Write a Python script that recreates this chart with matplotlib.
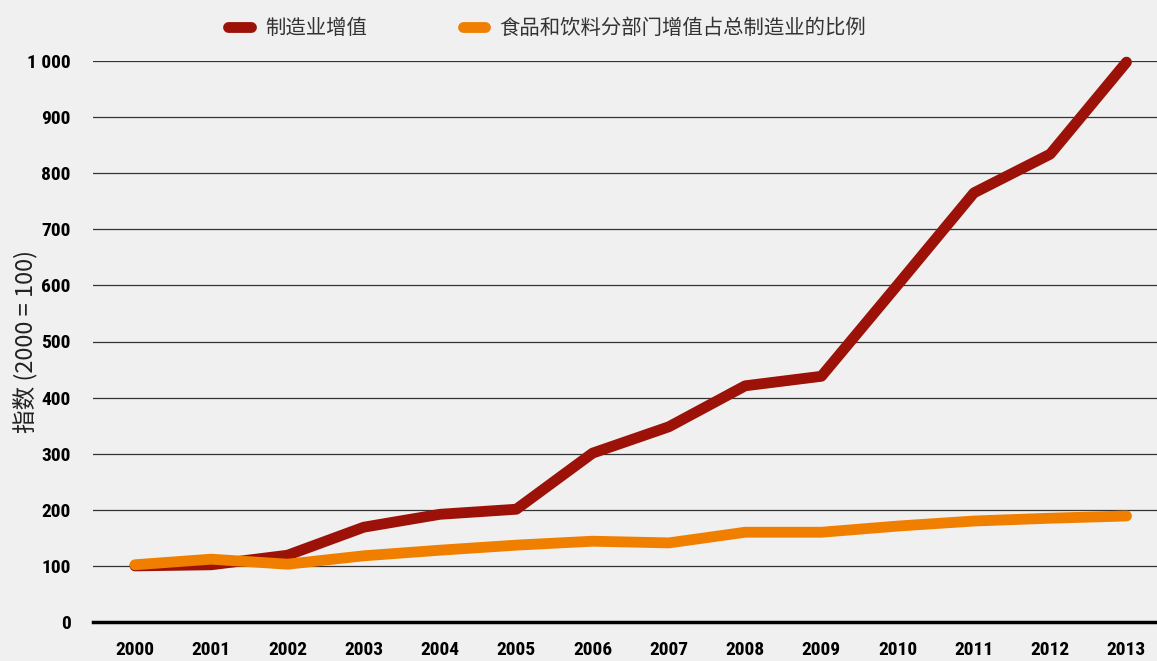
import matplotlib.pyplot as plt
from matplotlib import font_manager
from matplotlib.ticker import FuncFormatter

years = list(range(2000, 2014))
manufacturing = [100, 102, 119, 169, 192, 201, 301, 348, 421, 438, 601, 765, 834, 998]
food_share = [102, 112, 103, 118, 128, 137, 144, 141, 160, 160, 171, 180, 185, 189]
yticks = [0, 100, 200, 300, 400, 500, 600, 700, 800, 900, 1000]

label_red = '制造业增值'
label_orange = '食品和饮料分部门增值占总制造业的比例'
ylabel = '指数 (2000 = 100)'

bg = '#f0f0f0'
red = '#9c1208'
orange = '#f07f00'
cjk_font = ['Noto Sans CJK SC', 'DejaVu Sans']

# narrow font for the numbers if there is one
names = {f.name for f in font_manager.fontManager.ttflist}
narrow = [n for n in ['Liberation Sans Narrow', 'Roboto Condensed', 'Open Sans Condensed',
                      'DejaVu Sans Condensed'] if n in names]
tick_font = narrow[:1] + ['DejaVu Sans']

fig = plt.figure(figsize=(11.57, 6.61), dpi=100, facecolor=bg)
ax = fig.add_axes([93 / 1157, 39 / 661, 1 - 93 / 1157, (622 - 61) / 661])
ax.set_facecolor(bg)

ax.plot(years, manufacturing, color=red, lw=7.8, solid_capstyle='round',
        solid_joinstyle='round', clip_on=False, label=label_red, zorder=3)
ax.plot(years, food_share, color=orange, lw=7.8, solid_capstyle='round',
        solid_joinstyle='round', clip_on=False, label=label_orange, zorder=4)

ax.set_xlim(1999.45, 2013.4)
ax.set_ylim(0, 1000)
ax.set_yticks(yticks)
ax.yaxis.set_major_formatter(FuncFormatter(
    lambda v, p: f'{int(v):,}'.replace(',', ' ')))
ax.set_xticks(years)
ax.grid(axis='y', color='#333333', lw=0.9)
ax.set_axisbelow(True)
for s in ['top', 'right', 'left']:
    ax.spines[s].set_visible(False)
ax.spines['bottom'].set_linewidth(2.5)
ax.spines['bottom'].set_color('black')
ax.spines['bottom'].set_zorder(5)
ax.tick_params(length=0, labelsize=14, colors='black')
ax.tick_params(axis='y', pad=16)
ax.tick_params(axis='x', pad=14)
for lab in ax.get_xticklabels() + ax.get_yticklabels():
    lab.set_family(tick_font)
    lab.set_fontweight('bold')
    lab.set_fontstretch('condensed')

ax.set_ylabel(ylabel, family=cjk_font, fontsize=17, color='#222222')
ax.yaxis.set_label_coords(-0.052, 0.5)

leg = fig.legend(loc='center', bbox_to_anchor=(0.473, 0.957), ncol=2,
                 frameon=False, handlelength=1.1, columnspacing=4.7,
                 handletextpad=0.7, prop={'family': cjk_font, 'size': 14.7})
for t in leg.get_texts():
    t.set_color('#333333')

fig.savefig('out.png', dpi=100, facecolor=bg)
